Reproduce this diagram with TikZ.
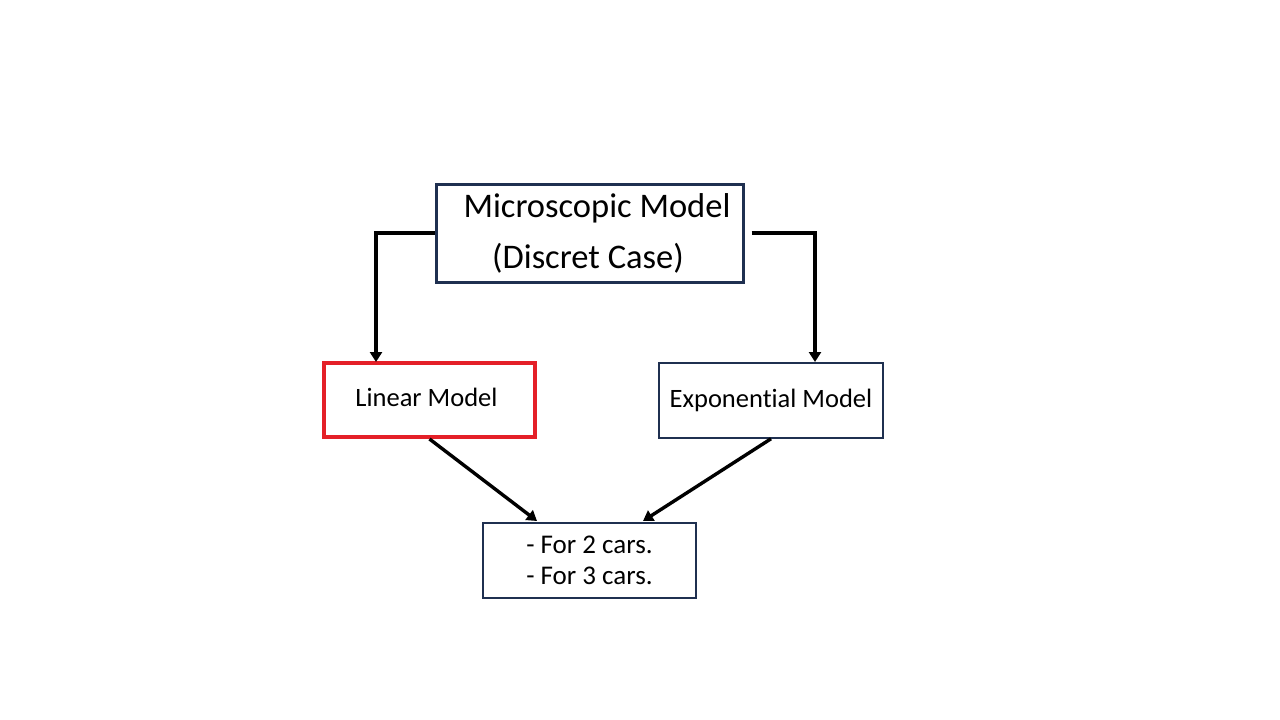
\documentclass[tikz,border=0pt]{standalone}
\usepackage{fontspec}
\setmainfont{Carlito}[Ligatures=NoCommon]
\usetikzlibrary{arrows.meta}
\definecolor{navy}{RGB}{31,48,80}
\definecolor{boxred}{RGB}{228,32,40}
\tikzset{
  modelbox/.style={draw=navy,line width=1.5pt,inner sep=0pt,align=center},
  conn/.style={line width=3.4pt,-{Triangle[length=10pt,width=12pt]}}
}
\begin{document}
\begin{tikzpicture}[line cap=butt,line join=miter,x=1pt,y=-1pt]
  \useasboundingbox[fill=white] (0,0) rectangle (1280,720);
  % boxes
  \node[modelbox,line width=3pt,minimum width=307pt,minimum height=98pt,
        font=\fontsize{34.5}{51}\selectfont] (micro) at (589.5,233)
        {\hspace*{15pt}Microscopic Model\\(Discret Case)\hspace*{3pt}};
  \node[modelbox,draw=boxred,line width=4pt,minimum width=211pt,minimum height=74pt,
        font=\fontsize{26.5}{31}\selectfont] (linear) at (429.5,400)
        {\raisebox{5pt}{Linear Model}\hspace*{6pt}};
  \node[modelbox,minimum width=224pt,minimum height=75pt,
        font=\fontsize{26.5}{31}\selectfont] (expo) at (771,400.5)
        {\raisebox{-4pt}{Exponential Model}};
  \node[modelbox,minimum width=213pt,minimum height=75pt,
        font=\fontsize{27}{31}\selectfont] (cars) at (589.5,560.5)
        {- For 2 cars.\\- For 3 cars.};
  % free ends
  \coordinate (linin) at (376,362);
  \coordinate (expin) at (815,362);
  \coordinate (carsl) at (537,521);
  \coordinate (carsr) at (643,521);
  % connectors
  \draw[conn] (micro.west) -| (linin);
  \draw[conn] ([xshift=7pt]micro.east) -| (expin);
  \draw[conn] (linear.south) -- (carsl);
  \draw[conn] (expo.south) -- (carsr);
\end{tikzpicture}
\end{document}
